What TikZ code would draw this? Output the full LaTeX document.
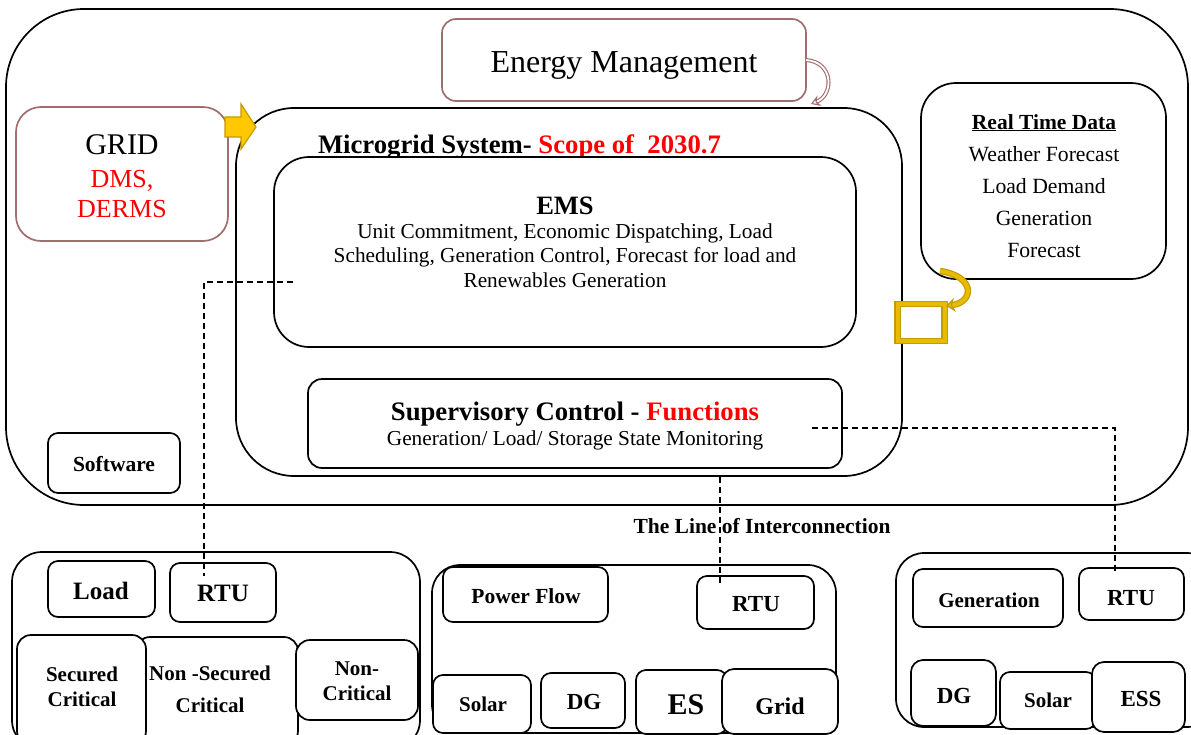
\documentclass[tikz,border=0pt]{standalone}
\usepackage{fontspec}
\setmainfont{Liberation Serif}
\usetikzlibrary{arrows.meta,calc}
\definecolor{brownb}{RGB}{160,110,110}
\definecolor{goldf}{RGB}{255,200,0}
\definecolor{goldm}{RGB}{232,186,0}
\definecolor{goldd}{RGB}{196,155,0}
\definecolor{redt}{RGB}{255,0,0}
\newcommand{\fsz}[1]{\fontsize{#1}{#1}\selectfont}
\tikzset{
 box/.style={draw=black, line width=1.7pt, fill=white, inner sep=0pt, outer sep=0pt},
 bbox/.style={draw=brownb, line width=1.7pt, fill=white, inner sep=0pt, outer sep=0pt},
 lbl/.style={inner sep=0pt, outer sep=0pt, align=center, anchor=base},
 dashconn/.style={draw=black, line width=1.4pt, dash pattern=on 6pt off 4pt},
 goldline/.style={draw=goldd, line width=1.2pt, double=goldm, double distance=4pt},
}
% [style]{name}{x1}{x2}{y1}{y2}{radius}
\newcommand{\bx}[7][box]{\node[#1, rounded corners=#7pt, minimum width={(#4-#3)*1pt}, minimum height={(#6-#5)*1pt}] (#2) at ({(#3+#4)/2},{(#5+#6)/2}) {};}
% {name}{x}{y}{size}{text}
\newcommand{\tx}[5]{\node[lbl] (#1) at (#2,#3) {\fsz{#4}#5};}
\begin{document}
\begin{tikzpicture}[x=1pt,y=-1pt]
\useasboundingbox (0,0) rectangle (1191,734);
\clip (0,0) rectangle (1191,734);
\fill[white] (0,0) rectangle (1191,734);
% outer
\bx{outer}{6}{1188}{9}{505}{78}
% energy management
\bx[bbox]{em}{442}{806}{19}{101}{14}
\tx{emt}{624}{72}{32}{Energy Management}
% grid
\bx[bbox]{grid}{16}{228}{107}{241}{25}
\tx{gridt}{122}{154}{30}{GRID}
\tx{dmst}{122}{187}{26}{\color{redt}DMS,}
\tx{dermst}{122}{217}{26}{\color{redt}DERMS}
% microgrid
\bx{mg}{236}{902}{108}{476}{58}
\node[lbl, anchor=base west] (mgt) at (318,153) {\fsz{26.7}\bfseries Microgrid System- \color{redt}Scope of\ \ 2030.7};
% EMS
\bx{ems}{274}{856}{157}{347}{35}
\tx{emst}{565}{214}{26.5}{\bfseries EMS}
\tx{emsa}{565}{238}{21.3}{Unit Commitment, Economic Dispatching, Load}
\tx{emsb}{565}{262}{21.3}{Scheduling, Generation Control, Forecast for load and}
\tx{emsc}{565}{287}{21.3}{Renewables Generation}
% supervisory
\bx{sup}{308}{842}{379}{468}{14}
\tx{supt}{575}{420}{26.7}{\bfseries Supervisory Control - \color{redt}Functions}
\tx{supa}{575}{445}{21.3}{Generation/ Load/ Storage State Monitoring}
% real time data
\bx{rtd}{921}{1166}{83}{279}{35}
\tx{rtdt}{1044}{129}{21.5}{\bfseries\underline{Real Time Data}}
\tx{rtda}{1044}{161}{21.7}{Weather Forecast}
\tx{rtdb}{1044}{193}{21.7}{Load Demand}
\tx{rtdc}{1044}{225}{21.7}{Generation}
\tx{rtdd}{1044}{257}{21.7}{Forecast}
% software
\bx{sw}{48}{180}{433}{493}{10}
\tx{swt}{114}{471}{21.5}{\bfseries Software}
\tx{loi}{762}{533}{21.5}{\bfseries The Line of Interconnection}
% yellow block arrow grid -> microgrid
\path[fill=goldf, draw=goldd, line width=1.2pt] (225,117) -- (241,117) -- (241,104) -- (256,127) -- (241,149) -- (241,137) -- (225,137) -- cycle;
% em curved arrow
\coordinate (emc) at (811,104);
\draw[brownb, line width=1.1pt, double=white, double distance=1.8pt, -{Stealth[open,length=9pt,width=11pt]}] (em.east) .. controls (834,62) and (834,95) .. (emc);
% gold square and arrow
\node[goldline, fill=white, minimum width=47pt, minimum height=37pt, inner sep=0pt, outer sep=0pt] (gsq) at (921,322.5) {};
\coordinate (rtdc1) at (940,271);
\draw[goldline, -{Stealth[length=9pt,width=14pt,fill=goldm]}] (rtdc1) .. controls (975,276) and (975,302) .. (946,306);
% group A
\bx{gA}{12}{420}{552}{750}{30}
\bx{loadb}{48}{155}{561}{617}{10}
\tx{loadt}{101}{599}{25}{\bfseries Load}
\bx{rtuA}{170}{276}{563}{622}{10}
\tx{rtuAt}{223}{601}{25}{\bfseries RTU}
\bx{nsc}{136}{298}{637}{745}{14}
\bx{sc}{17}{146}{635}{745}{14}
\bx{nc}{296}{418}{640}{720}{14}
\tx{sca}{82}{681}{21}{\bfseries Secured}
\tx{scb}{82}{706}{21}{\bfseries Critical}
\tx{nsca}{210}{680}{21}{\bfseries Non -Secured}
\tx{nscb}{210}{712}{21}{\bfseries Critical}
\tx{nca}{357}{675}{21}{\bfseries Non-}
\tx{ncb}{357}{700}{21}{\bfseries Critical}
% group B
\bx{gB}{432}{836}{565}{733}{28}
\bx{pf}{443}{608}{567}{622}{10}
\tx{pft}{526}{603}{21.5}{\bfseries Power Flow}
\bx{rtuB}{697}{814}{576}{629}{10}
\tx{rtuBt}{756}{611}{23}{\bfseries RTU}
\bx{solB}{433}{531}{675}{733}{10}
\tx{solBt}{483}{711}{21}{\bfseries Solar}
\bx{dgB}{541}{625}{673}{728}{10}
\tx{dgBt}{584}{709}{23}{\bfseries DG}
\bx{es}{636}{727}{670}{734}{10}
\tx{est}{686}{714}{30}{\bfseries ES}
\bx{gridB}{722}{838}{669}{734}{12}
\tx{gridBt}{780}{714}{24}{\bfseries Grid}
% group C
\bx{gC}{896}{1215}{553}{727}{28}
\bx{gen}{913}{1063}{569}{627}{10}
\tx{gent}{989}{607}{21}{\bfseries Generation}
\bx{rtuC}{1079}{1184}{568}{620}{10}
\tx{rtuCt}{1131}{605}{23}{\bfseries RTU}
\bx{dgC}{911}{996}{660}{726}{12}
\tx{dgCt}{954}{703}{23}{\bfseries DG}
\bx{solC}{1000}{1096}{672}{729}{10}
\tx{solCt}{1048}{707}{21}{\bfseries Solar}
\bx{ess}{1092}{1185}{662}{732}{12}
\tx{esst}{1141}{706}{23}{\bfseries ESS}
% dashed connectors
\coordinate (d1s) at (293,282);
\coordinate (d1e) at (204,576);
\draw[dashconn] (d1s) -| (d1e);
\coordinate (d2s) at (720,477);
\coordinate (d2e) at (720,584);
\draw[dashconn] (d2s) -- (d2e);
\coordinate (d3s) at (812,428);
\coordinate (d3e) at (1115,574);
\draw[dashconn] (d3s) -| (d3e);
\end{tikzpicture}
\end{document}
